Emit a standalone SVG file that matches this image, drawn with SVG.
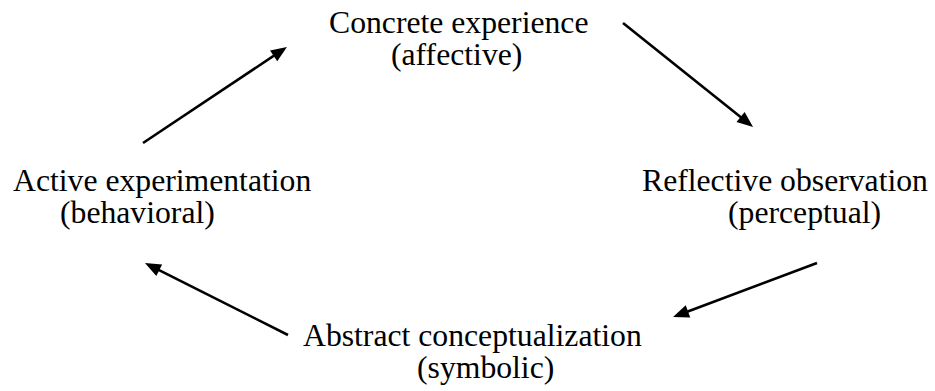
<svg xmlns="http://www.w3.org/2000/svg" width="935" height="391" viewBox="0 0 935 391">
  <style>
    .label { font-family: "Liberation Serif", "Times New Roman", serif; font-size: 31.7px; fill: #000; }
    .arrow { stroke: #000; stroke-width: 2.6; fill: none; marker-end: url(#head); }
  </style>
  <defs>
    <marker id="head" markerUnits="userSpaceOnUse" markerWidth="17" markerHeight="14" refX="8" refY="6.5" orient="auto" overflow="visible">
      <path d="M0,0 L16,6.5 L0,13 Z" fill="#000"/>
    </marker>
  </defs>
  <rect width="935" height="391" fill="#fff"/>

  <!-- Learning cycle stages -->
  <g id="concrete">
    <text class="label" x="329" y="33">Concrete experience</text>
    <text class="label" x="391" y="65">(affective)</text>
  </g>
  <g id="reflective">
    <text class="label" x="642" y="191">Reflective observation</text>
    <text class="label" x="728" y="223">(perceptual)</text>
  </g>
  <g id="abstract">
    <text class="label" x="303" y="346">Abstract conceptualization</text>
    <text class="label" x="417" y="378">(symbolic)</text>
  </g>
  <g id="active">
    <text class="label" x="13" y="191">Active experimentation</text>
    <text class="label" x="60" y="223">(behavioral)</text>
  </g>

  <!-- Cycle arrows -->
  <g id="connectors">
    <line class="arrow" x1="143" y1="143" x2="280.3" y2="51.4"/>
    <line class="arrow" x1="623" y1="23" x2="746.8" y2="122"/>
    <line class="arrow" x1="817" y1="263" x2="680.5" y2="314.2"/>
    <line class="arrow" x1="288" y1="335" x2="152.1" y2="266.6"/>
  </g>
</svg>
